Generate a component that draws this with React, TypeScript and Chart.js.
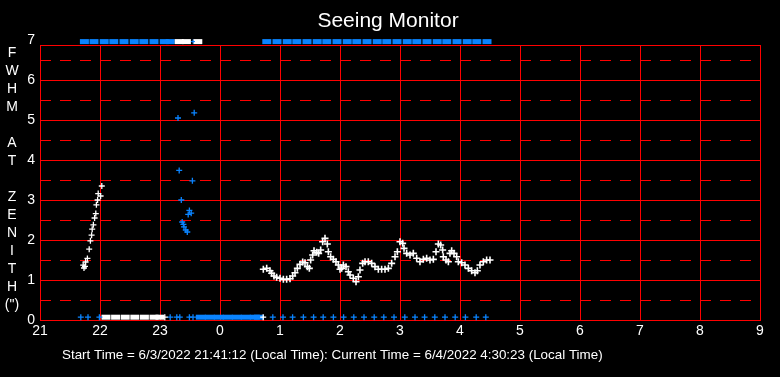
import React, { useEffect, useRef } from "react";
import { Chart, registerables } from "chart.js";

Chart.register(...registerables);

// ---- Text ----
const TITLE = "Seeing Monitor";
const Y_LABEL_LINES = ["F", "W", "H", "M", "", "A", "T", "", "Z", "E", "N", "I", "T", "H", "(\")"];
const FOOTER = "Start Time = 6/3/2022 21:41:12 (Local Time): Current Time = 6/4/2022 4:30:23 (Local Time)";

// ---- Axes ----
const X_MIN = 21;
const X_MAX = 33;
const Y_MIN = 0;
const Y_MAX = 7; // tick range
const PLOT_TOP = 6.875; // top edge of the red frame

// Off-scale values are shown clamped just outside the plot
const OFF_TOP = 6.96;
const OFF_BOTTOM = 0.07;

// ---- Data: FWHM measurements (white) ----
const whiteEarlyTimes = [21.72, 21.733, 21.75, 21.76, 21.79, 21.82, 21.84, 21.86, 21.87, 21.89, 21.91, 21.93, 21.94, 21.96, 21.97, 22.01, 22.03];
const whiteEarlyFwhm = [1.37, 1.30, 1.34, 1.45, 1.54, 1.77, 1.98, 2.12, 2.27, 2.38, 2.55, 2.66, 2.88, 3.00, 3.16, 3.10, 3.35];

const whiteMainTimes = [
  24.722, 24.778, 24.833, 24.861, 24.9, 24.944, 25.0, 25.056, 25.111, 25.167,
  25.211, 25.25, 25.289, 25.333, 25.378, 25.417, 25.456, 25.489, 25.511, 25.544,
  25.567, 25.611, 25.644, 25.678, 25.711, 25.75, 25.789, 25.806, 25.844, 25.889,
  25.933, 25.972, 26.0, 26.028, 26.056, 26.1, 26.139, 26.167, 26.222, 26.267,
  26.306, 26.333, 26.378, 26.417, 26.472, 26.528, 26.583, 26.639, 26.694, 26.75,
  26.806, 26.861, 26.917, 26.956, 27.0, 27.044, 27.067, 27.111, 27.167, 27.222,
  27.278, 27.333, 27.389, 27.444, 27.5, 27.556, 27.6, 27.639, 27.678, 27.711,
  27.722, 27.767, 27.806, 27.833, 27.861, 27.9, 27.944, 27.972, 28.028, 28.083,
  28.139, 28.194, 28.25, 28.289, 28.333, 28.389, 28.444, 28.5,
];
const whiteMainFwhm = [
  1.267, 1.291, 1.233, 1.167, 1.100, 1.066, 1.042, 1.016, 1.016, 1.033,
  1.100, 1.183, 1.291, 1.391, 1.449, 1.433, 1.334, 1.291, 1.500, 1.625,
  1.733, 1.691, 1.666, 1.750, 1.958, 2.041, 1.899, 1.708, 1.583, 1.516,
  1.458, 1.375, 1.267, 1.291, 1.375, 1.334, 1.208, 1.124, 1.042, 0.958,
  1.083, 1.250, 1.416, 1.458, 1.458, 1.416, 1.334, 1.267, 1.267, 1.267,
  1.291, 1.416, 1.583, 1.708, 1.958, 1.916, 1.791, 1.666, 1.625, 1.666,
  1.542, 1.458, 1.516, 1.542, 1.500, 1.516, 1.708, 1.899, 1.875, 1.750,
  1.583, 1.500, 1.458, 1.666, 1.733, 1.666, 1.583, 1.458, 1.433, 1.375,
  1.291, 1.233, 1.183, 1.233, 1.375, 1.458, 1.500, 1.500,
];

// ---- Data: blue measurements ----
const blueScatterTimes = [23.30, 23.57, 23.32, 23.54, 23.355, 23.49, 23.52, 23.47, 23.37, 23.39, 23.40, 23.43, 23.455];
const blueScatterFwhm = [5.05, 5.18, 3.74, 3.48, 3.00, 2.74, 2.67, 2.64, 2.45, 2.39, 2.33, 2.25, 2.20];

// ---- Off-scale (top) samples ----
const topBlueTimes = [
  21.74, 21.9, 22.07, 22.23, 22.4, 22.57, 22.73, 22.9, 23.07, 23.17,
  24.78, 24.95, 25.12, 25.28, 25.45, 25.62, 25.78, 25.95, 26.12, 26.28,
  26.45, 26.62, 26.78, 26.95, 27.12, 27.28, 27.45, 27.62, 27.78, 27.95,
  28.12, 28.28, 28.45,
];
const topWhiteTimes = [23.32, 23.44, 23.63];
const topBlueCrossTimes = [23.55];

// ---- Off-scale (bottom) samples ----
const bottomWhiteBarTimes = [22.1, 22.26, 22.42, 22.58, 22.74, 22.9, 23.0];
const bottomBlueBarTimes = [23.68, 23.83, 23.98, 24.13, 24.28, 24.43, 24.58, 24.65];
const bottomWhiteCrossTimes = [23.08, 24.72];
const bottomBlueCrossTimes = [
  21.68, 21.8, 21.99, 23.17, 23.28, 23.33, 23.49, 23.55,
  24.88, 25.05, 25.21, 25.39, 25.56, 25.72, 25.89, 26.06, 26.23, 26.4,
  26.57, 26.73, 26.9, 27.08, 27.25, 27.41, 27.58, 27.75, 27.92, 28.09,
  28.27, 28.43,
];

const WHITE = "#ffffff";
const BLUE = "#0a84ff";
const RED = "#ff0000";
const FONT = "'Liberation Sans', Arial, Helvetica, sans-serif";

const pts = (xs: number[], ys: number[]) => xs.map((x, i) => ({ x, y: ys[i] }));
const flat = (xs: number[], v: number) => xs.map((x) => ({ x, y: v }));

const crossSet = (data: any[], color: string, r = 3, w = 1.3) => ({
  data,
  showLine: false,
  pointStyle: "cross",
  pointRadius: r,
  pointHoverRadius: r,
  pointBorderWidth: w,
  borderColor: color,
  backgroundColor: color,
  clip: false,
});

const barSet = (data: any[], color: string, r = 4.5) => ({
  data,
  showLine: false,
  pointStyle: "line",
  pointRadius: r,
  pointHoverRadius: r,
  pointBorderWidth: 5,
  borderColor: color,
  backgroundColor: color,
  clip: false,
});

const gridPlugin = {
  id: "seeingGrid",
  beforeDatasetsDraw(chart: any) {
    const { ctx, chartArea: a, scales } = chart;
    const x = scales.x;
    const y = scales.y;
    const top = Math.round(y.getPixelForValue(PLOT_TOP)) + 0.5;
    const bottom = Math.round(y.getPixelForValue(Y_MIN)) + 0.5;
    ctx.save();
    ctx.strokeStyle = RED;
    ctx.lineWidth = 1;
    // dashed half-unit lines
    ctx.setLineDash([11, 9]);
    for (let v = Y_MIN + 0.5; v < PLOT_TOP; v += 1) {
      const py = Math.round(y.getPixelForValue(v)) + 0.5;
      ctx.beginPath();
      ctx.moveTo(a.left, py);
      ctx.lineTo(a.right, py);
      ctx.stroke();
    }
    ctx.setLineDash([]);
    const solid: number[] = [];
    for (let v = Y_MIN; v < PLOT_TOP; v += 1) solid.push(v);
    solid.push(PLOT_TOP);
    for (const v of solid) {
      const py = Math.round(y.getPixelForValue(v)) + 0.5;
      ctx.beginPath();
      ctx.moveTo(a.left, py);
      ctx.lineTo(a.right + 1, py);
      ctx.stroke();
    }
    for (let h = X_MIN; h <= X_MAX; h += 1) {
      const px = Math.round(x.getPixelForValue(h)) + 0.5;
      ctx.beginPath();
      ctx.moveTo(px, top - 0.5);
      ctx.lineTo(px, bottom + 0.5);
      ctx.stroke();
    }
    ctx.restore();
  },
};

const textPlugin = {
  id: "seeingText",
  afterDraw(chart: any) {
    const { ctx } = chart;
    ctx.save();
    ctx.fillStyle = WHITE;
    ctx.textAlign = "center";
    ctx.textBaseline = "middle";
    ctx.font = `21px ${FONT}`;
    ctx.fillText(TITLE, 388, 21);
    ctx.font = `14px ${FONT}`;
    Y_LABEL_LINES.forEach((s, i) => {
      if (s) ctx.fillText(s, 12, 53 + i * 18);
    });
    ctx.textAlign = "left";
    ctx.font = `13.4px ${FONT}`;
    ctx.fillText(FOOTER, 62, 355);
    ctx.restore();
  },
};

export default function App() {
  const ref = useRef<HTMLCanvasElement | null>(null);

  useEffect(() => {
    document.body.style.margin = "0";
    document.body.style.background = "#000";
    const canvas = ref.current;
    if (!canvas) return;
    const chart = new Chart(canvas, {
      type: "scatter",
      data: {
        datasets: [
          crossSet(pts(whiteEarlyTimes, whiteEarlyFwhm), WHITE, 3, 1.3),
          crossSet(pts(whiteMainTimes, whiteMainFwhm), WHITE, 3.5, 1.6),
          crossSet(pts(blueScatterTimes, blueScatterFwhm), BLUE, 3, 1.3),
          crossSet(flat(topBlueCrossTimes, OFF_TOP), BLUE, 2, 1),
          barSet(flat(topWhiteTimes, OFF_TOP), WHITE),
          barSet(flat(topBlueTimes, OFF_TOP), BLUE),
          crossSet(flat(bottomWhiteCrossTimes, OFF_BOTTOM), WHITE, 3, 1.3),
          crossSet(flat(bottomBlueCrossTimes, OFF_BOTTOM), BLUE, 3, 1.3),
          barSet(flat(bottomWhiteBarTimes, OFF_BOTTOM), WHITE),
          barSet(flat(bottomBlueBarTimes, OFF_BOTTOM), BLUE, 5),
        ] as any,
      },
      options: {
        animation: false,
        responsive: false,
        maintainAspectRatio: false,
        layout: { padding: { top: 40, right: 20, left: 0, bottom: 0 } },
        plugins: {
          legend: { display: false },
          tooltip: { enabled: false },
          title: { display: false },
        },
        events: [],
        scales: {
          x: {
            type: "linear",
            min: X_MIN,
            max: X_MAX,
            grid: { display: false, drawTicks: false },
            border: { display: false },
            ticks: {
              stepSize: 1,
              color: WHITE,
              padding: 3,
              maxRotation: 0,
              autoSkip: false,
              font: { family: FONT, size: 14 },
              callback: (v: any) => String(((Number(v) % 24) + 24) % 24),
            },
            afterFit: (s: any) => {
              s.height = 57;
            },
          },
          y: {
            type: "linear",
            min: Y_MIN,
            max: Y_MAX,
            grid: { display: false, drawTicks: false },
            border: { display: false },
            ticks: {
              stepSize: 1,
              color: WHITE,
              padding: 5,
              font: { family: FONT, size: 14 },
            },
            afterFit: (s: any) => {
              s.width = 40;
            },
          },
        },
      } as any,
      plugins: [gridPlugin, textPlugin],
    });
    return () => chart.destroy();
  }, []);

  return (
    <div style={{ width: 780, height: 377, background: "#000" }}>
      <canvas ref={ref} width={780} height={377} style={{ display: "block" }} />
    </div>
  );
}
